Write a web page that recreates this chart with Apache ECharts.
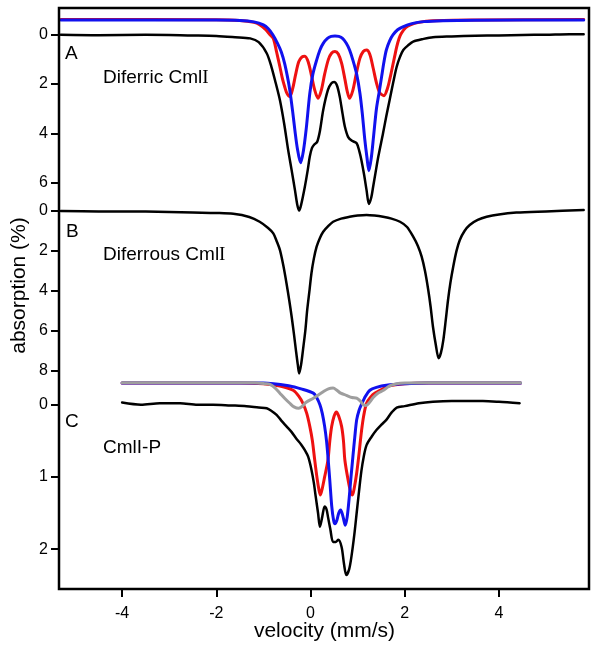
<!DOCTYPE html>
<html>
<head>
<meta charset="utf-8">
<script src="https://cdn.jsdelivr.net/npm/echarts@6.0.0/dist/echarts.min.js"></script>
<style>html,body{margin:0;padding:0;background:#fff}#c{width:598px;height:648px}</style>
</head>
<body>
<div id="c"></div>
<script>
// ---- data (velocity mm/s, absorption %) ----
const xTicks = [-4, -2, 0, 2, 4];
const aTicks = [0, 2, 4, 6];
const bTicks = [0, 2, 4, 6, 8];
const cTicks = [0, 1, 2];

const aData = [[-5.3,0.0],[-4.5,0.02],[-3.5,0.0],[-2.5,0.03],[-2.0,0.05],[-1.6,0.1],[-1.28,0.15],[-1.1,0.3],[-0.93,0.75],[-0.83,1.3],[-0.74,1.95],[-0.65,2.65],[-0.56,3.6],[-0.475,4.67],[-0.4,5.5],[-0.33,6.3],[-0.28,6.9],[-0.24,7.13],[-0.2,6.9],[-0.12,6.16],[-0.06,5.5],[-0.015,4.94],[0.03,4.6],[0.08,4.45],[0.14,4.35],[0.2,3.9],[0.27,3.05],[0.37,2.24],[0.44,1.98],[0.5,1.92],[0.56,2.05],[0.62,2.51],[0.68,3.2],[0.73,3.73],[0.8,4.15],[0.88,4.3],[0.98,4.4],[1.04,4.75],[1.08,5.08],[1.14,5.7],[1.19,6.3],[1.24,6.86],[1.29,6.6],[1.33,6.16],[1.38,5.6],[1.44,4.94],[1.54,3.99],[1.61,3.3],[1.68,2.65],[1.76,1.9],[1.83,1.3],[1.9,0.9],[1.97,0.62],[2.08,0.42],[2.18,0.28],[2.4,0.17],[2.6,0.1],[3.0,0.07],[3.5,0.04],[4.0,0.03],[4.5,0.01],[5.0,0.0],[5.5,-0.02],[5.8,-0.02]];
const aBlue = [[-5.3,-0.6],[-2.0,-0.6],[-1.5,-0.58],[-1.2,-0.52],[-1.0,-0.4],[-0.9,-0.25],[-0.8,0.0],[-0.7,0.35],[-0.62,0.7],[-0.55,1.16],[-0.49,1.7],[-0.44,2.24],[-0.38,3.1],[-0.33,3.9],[-0.28,4.6],[-0.21,5.19],[-0.15,4.7],[-0.09,3.8],[-0.015,2.38],[0.05,1.6],[0.13,1.03],[0.2,0.62],[0.27,0.35],[0.36,0.15],[0.44,0.07],[0.52,0.05],[0.6,0.07],[0.68,0.15],[0.76,0.35],[0.83,0.62],[0.9,1.03],[0.98,1.6],[1.05,2.38],[1.1,3.2],[1.15,4.2],[1.2,5.0],[1.24,5.51],[1.29,5.0],[1.34,4.1],[1.4,3.0],[1.46,2.3],[1.51,1.7],[1.56,1.1],[1.61,0.62],[1.68,0.25],[1.75,0.01],[1.85,-0.2],[1.96,-0.32],[2.15,-0.45],[2.4,-0.53],[2.8,-0.57],[3.5,-0.59],[5.8,-0.6]];
const aRed = [[-5.3,-0.62],[-2.0,-0.61],[-1.5,-0.58],[-1.2,-0.5],[-1.08,-0.4],[-0.95,-0.2],[-0.86,0.0],[-0.79,0.15],[-0.72,0.7],[-0.65,1.3],[-0.6,1.75],[-0.55,2.1],[-0.5,2.38],[-0.44,2.51],[-0.38,2.2],[-0.32,1.65],[-0.25,1.1],[-0.18,0.9],[-0.12,0.87],[-0.05,1.1],[0.02,1.65],[0.09,2.25],[0.16,2.58],[0.23,2.25],[0.3,1.6],[0.38,1.0],[0.45,0.74],[0.52,0.68],[0.59,0.78],[0.66,1.15],[0.73,1.8],[0.78,2.3],[0.83,2.58],[0.9,2.25],[0.97,1.6],[1.05,0.95],[1.12,0.68],[1.19,0.62],[1.26,0.8],[1.33,1.35],[1.4,1.95],[1.47,2.35],[1.56,2.47],[1.63,2.2],[1.69,1.75],[1.74,1.3],[1.79,0.85],[1.83,0.49],[1.88,0.15],[1.93,-0.06],[2.02,-0.28],[2.11,-0.39],[2.3,-0.5],[2.6,-0.57],[3.5,-0.6],[5.8,-0.62]];

const bData = [[-5.3,0.0],[-4.5,0.02],[-3.5,0.03],[-2.5,0.08],[-2.0,0.1],[-1.64,0.14],[-1.3,0.3],[-1.08,0.54],[-0.9,0.85],[-0.79,1.12],[-0.72,1.5],[-0.65,1.95],[-0.58,2.7],[-0.51,3.62],[-0.45,4.5],[-0.4,5.3],[-0.35,6.2],[-0.31,6.97],[-0.27,7.7],[-0.24,8.14],[-0.2,7.7],[-0.16,6.97],[-0.11,6.0],[-0.07,4.96],[-0.02,3.95],[0.02,3.12],[0.07,2.4],[0.13,1.79],[0.2,1.35],[0.27,1.04],[0.38,0.75],[0.48,0.54],[0.65,0.38],[0.83,0.29],[1.0,0.23],[1.19,0.2],[1.36,0.23],[1.54,0.29],[1.72,0.38],[1.9,0.54],[2.05,0.8],[2.18,1.29],[2.28,1.75],[2.36,2.29],[2.43,3.0],[2.5,3.96],[2.55,4.8],[2.6,5.8],[2.66,6.7],[2.72,7.38],[2.77,7.1],[2.82,6.47],[2.87,5.5],[2.92,4.46],[2.97,3.6],[3.03,2.79],[3.1,2.0],[3.17,1.45],[3.27,1.0],[3.38,0.7],[3.55,0.45],[3.74,0.29],[4.0,0.17],[4.37,0.08],[5.0,0.02],[5.8,-0.05]];

const cData = [[-4.0,-0.03],[-3.6,0.0],[-3.2,-0.02],[-2.77,-0.02],[-2.4,0.0],[-2.07,0.0],[-1.7,0.01],[-1.36,0.02],[-1.1,0.04],[-0.93,0.05],[-0.82,0.09],[-0.72,0.14],[-0.62,0.22],[-0.51,0.3],[-0.4,0.38],[-0.3,0.47],[-0.2,0.55],[-0.12,0.63],[-0.05,0.72],[0.02,0.9],[0.07,1.08],[0.11,1.27],[0.16,1.5],[0.2,1.69],[0.25,1.55],[0.3,1.41],[0.34,1.45],[0.37,1.55],[0.42,1.72],[0.48,1.9],[0.54,1.9],[0.59,1.87],[0.66,1.97],[0.71,2.2],[0.76,2.36],[0.82,2.28],[0.87,2.1],[0.93,1.8],[0.98,1.5],[1.03,1.2],[1.08,0.92],[1.13,0.72],[1.19,0.56],[1.3,0.44],[1.4,0.35],[1.5,0.28],[1.61,0.21],[1.72,0.11],[1.83,0.04],[2.0,0.02],[2.3,-0.02],[2.6,-0.04],[3.0,-0.05],[3.66,-0.05],[4.0,-0.04],[4.44,-0.02]];
const cRed = [[-4.0,-0.3],[-1.5,-0.3],[-1.0,-0.29],[-0.65,-0.26],[-0.37,-0.2],[-0.25,-0.12],[-0.16,-0.02],[-0.08,0.12],[-0.015,0.3],[0.04,0.5],[0.09,0.77],[0.14,1.02],[0.18,1.18],[0.21,1.25],[0.25,1.16],[0.3,1.0],[0.37,0.77],[0.41,0.5],[0.45,0.3],[0.5,0.16],[0.55,0.1],[0.6,0.16],[0.66,0.3],[0.7,0.5],[0.73,0.77],[0.8,1.05],[0.85,1.2],[0.89,1.25],[0.93,1.15],[0.98,0.95],[1.03,0.68],[1.08,0.38],[1.13,0.15],[1.19,-0.02],[1.27,-0.1],[1.37,-0.16],[1.68,-0.26],[2.0,-0.29],[2.5,-0.3],[4.46,-0.3]];
const cBlue = [[-4.0,-0.3],[-1.0,-0.3],[-0.44,-0.26],[-0.2,-0.22],[0.06,-0.16],[0.13,-0.1],[0.2,0.0],[0.25,0.12],[0.3,0.3],[0.34,0.5],[0.37,0.72],[0.41,1.05],[0.45,1.4],[0.49,1.6],[0.52,1.65],[0.56,1.6],[0.6,1.5],[0.64,1.46],[0.69,1.55],[0.74,1.67],[0.78,1.55],[0.82,1.3],[0.86,1.0],[0.9,0.72],[0.94,0.45],[0.98,0.21],[1.03,0.08],[1.08,0.0],[1.17,-0.12],[1.26,-0.2],[1.4,-0.24],[1.61,-0.27],[2.0,-0.29],[2.5,-0.3],[4.46,-0.3]];
const cGray = [[-4.0,-0.305],[-1.2,-0.305],[-0.95,-0.29],[-0.86,-0.28],[-0.75,-0.23],[-0.65,-0.16],[-0.55,-0.09],[-0.44,-0.02],[-0.35,0.03],[-0.25,0.05],[-0.17,0.02],[-0.1,-0.03],[0.06,-0.09],[0.27,-0.18],[0.38,-0.22],[0.48,-0.23],[0.56,-0.2],[0.64,-0.16],[0.76,-0.13],[0.88,-0.1],[0.98,-0.09],[1.06,-0.05],[1.12,0.0],[1.18,0.01],[1.25,-0.03],[1.33,-0.1],[1.43,-0.16],[1.55,-0.2],[1.68,-0.26],[1.83,-0.29],[2.0,-0.3],[2.5,-0.305],[4.46,-0.305]];

// ---- layout ----
const FONT = "'Liberation Sans', Arial, sans-serif";
const XMIN = -5.34, XMAX = 5.913;
const L = 59, W = 530;

const chart = echarts.init(document.getElementById('c'), null, {renderer: 'canvas'});

function hiddenX(gi) {
  return {gridIndex: gi, type: 'value', min: XMIN, max: XMAX, show: false};
}
function panelY(gi, min, max, ticks) {
  return {
    gridIndex: gi, type: 'value', inverse: true, min: min, max: max, position: 'left',
    axisLine: {show: false, onZero: false},
    splitLine: {show: false},
    axisTick: {show: true, length: 8, lineStyle: {color: '#000', width: 2}, customValues: ticks},
    axisLabel: {show: true, margin: 11, fontSize: 16, fontFamily: FONT, color: '#000', customValues: ticks}
  };
}
function line(data, xi, yi, color, width) {
  return {
    type: 'line', data: data, xAxisIndex: xi, yAxisIndex: yi,
    showSymbol: false, symbol: 'none', smooth: 0.3,
    lineStyle: {color: color, width: width, join: 'round', cap: 'round'}, silent: true, z: 3
  };
}

const option = {
  animation: false,
  backgroundColor: '#fff',
  grid: [
    {left: L, width: W, top: 8, height: 581, show: true, borderColor: '#000', borderWidth: 2.5, backgroundColor: 'transparent', z: 10},
    {left: L, width: W, top: 8, height: 210},
    {left: L, width: W, top: 190, height: 190},
    {left: L, width: W, top: 375, height: 214}
  ],
  xAxis: [
    {gridIndex: 0, type: 'value', min: XMIN, max: XMAX, position: 'bottom',
     axisLine: {show: false, onZero: false}, splitLine: {show: false},
     axisTick: {show: true, length: 8, lineStyle: {color: '#000', width: 2}, customValues: xTicks},
     axisLabel: {show: true, margin: 17, fontSize: 16, fontFamily: FONT, color: '#000', customValues: xTicks}},
    hiddenX(1), hiddenX(2), hiddenX(3)
  ],
  yAxis: [
    {gridIndex: 0, type: 'value', min: 0, max: 1, show: false},
    panelY(1, -1.0823, 7.430, aTicks),
    panelY(2, -1.0526, 8.471, bTicks),
    panelY(3, -0.4114, 2.5526, cTicks)
  ],
  series: [
    line(aData, 1, 1, '#000', 2.5),
    line(aRed, 1, 1, '#ee1111', 3),
    line(aBlue, 1, 1, '#1111ee', 3),
    line(bData, 2, 2, '#000', 2.5),
    line(cData, 3, 3, '#000', 2.5),
    line(cRed, 3, 3, '#ee1111', 3),
    line(cBlue, 3, 3, '#1111ee', 3),
    line(cGray, 3, 3, '#9e9e9e', 3)
  ],
  graphic: [
    {type: 'text', x: 65, y: 53.5, style: {text: 'A', fontSize: 19, fontFamily: FONT, fill: '#000', verticalAlign: 'middle'}},
    {type: 'text', x: 103, y: 78, style: {text: 'Diferric Cml{r|I}', fontSize: 19, fontFamily: FONT, fill: '#000', verticalAlign: 'middle', rich: {r: {fontSize: 19, fontFamily: "'Liberation Serif', 'Times New Roman', serif", fill: '#000'}}}},
    {type: 'text', x: 66, y: 231.5, style: {text: 'B', fontSize: 19, fontFamily: FONT, fill: '#000', verticalAlign: 'middle'}},
    {type: 'text', x: 103, y: 255, style: {text: 'Diferrous Cml{r|I}', fontSize: 19, fontFamily: FONT, fill: '#000', verticalAlign: 'middle', rich: {r: {fontSize: 19, fontFamily: "'Liberation Serif', 'Times New Roman', serif", fill: '#000'}}}},
    {type: 'text', x: 65, y: 421.5, style: {text: 'C', fontSize: 19, fontFamily: FONT, fill: '#000', verticalAlign: 'middle'}},
    {type: 'text', x: 103, y: 447.5, style: {text: 'CmlI-P', fontSize: 19, fontFamily: FONT, fill: '#000', verticalAlign: 'middle'}},
    {type: 'text', x: 324.5, y: 631, style: {text: 'velocity (mm/s)', fontSize: 21, fontFamily: FONT, fill: '#000', align: 'center', verticalAlign: 'middle'}},
    {type: 'text', x: 19, y: 285.5, rotation: Math.PI / 2, style: {text: 'absorption (%)', fontSize: 21, fontFamily: FONT, fill: '#000', align: 'center', verticalAlign: 'middle'}}
  ]
};
chart.setOption(option);
</script>
</body>
</html>
